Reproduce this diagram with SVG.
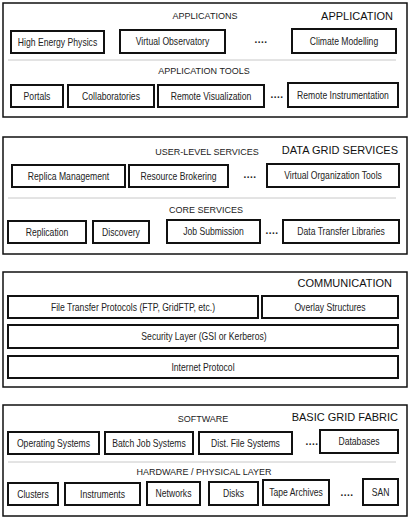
<svg xmlns="http://www.w3.org/2000/svg" width="410" height="522" viewBox="0 0 410 522">
<style>
.panel{fill:#fff;stroke:#111;stroke-width:1.5}
.box{fill:#fff;stroke:#111;stroke-width:2}
.div{stroke:#c8c8c8;stroke-width:1}
.bt{font-family:"Liberation Sans",Arial,sans-serif;font-size:10.5px;fill:#222;text-anchor:middle}
.st{font-family:"Liberation Sans",Arial,sans-serif;font-size:9px;fill:#222;text-anchor:middle}
.tt{font-family:"Liberation Sans",Arial,sans-serif;font-size:11px;fill:#111;text-anchor:end}
.dots{font-family:"Liberation Sans",Arial,sans-serif;font-size:10px;font-weight:bold;fill:#222;text-anchor:middle;letter-spacing:0.5px}
</style>
<rect width="410" height="522" fill="#fff"/>

<g id="application">
<rect class="panel" x="3" y="3" width="404" height="114"/>
<line class="div" x1="8" y1="60" x2="396" y2="60"/>
<text class="st" x="205" y="19">APPLICATIONS</text>
<text class="tt" x="393" y="20">APPLICATION</text>
<text class="st" x="204" y="74">APPLICATION TOOLS</text>
<text class="dots" x="261" y="43">....</text>
<text class="dots" x="277" y="98">....</text>
</g>
<g id="high-energy-physics"><rect class="box" x="11" y="31" width="93" height="22"/><text class="bt" transform="translate(57.5,45.5) scale(0.82,1)">High Energy Physics</text></g>
<g id="virtual-observatory"><rect class="box" x="120" y="30" width="105" height="23"/><text class="bt" transform="translate(172.5,45) scale(0.82,1)">Virtual Observatory</text></g>
<g id="climate-modelling"><rect class="box" x="292" y="29" width="104" height="24"/><text class="bt" transform="translate(344,44.5) scale(0.82,1)">Climate Modelling</text></g>
<g id="portals"><rect class="box" x="11" y="85" width="52" height="22"/><text class="bt" transform="translate(37,99.5) scale(0.82,1)">Portals</text></g>
<g id="collaboratories"><rect class="box" x="68" y="85" width="86" height="22"/><text class="bt" transform="translate(111,99.5) scale(0.82,1)">Collaboratories</text></g>
<g id="remote-visualization"><rect class="box" x="158" y="85" width="106" height="22"/><text class="bt" transform="translate(211,99.5) scale(0.82,1)">Remote Visualization</text></g>
<g id="remote-instrumentation"><rect class="box" x="288" y="83" width="110" height="24"/><text class="bt" transform="translate(343,98.5) scale(0.82,1)">Remote Instrumentation</text></g>

<g id="data-grid-services">
<rect class="panel" x="3" y="137" width="404" height="117"/>
<line class="div" x1="8" y1="198" x2="396" y2="198"/>
<text class="st" x="207" y="155">USER-LEVEL SERVICES</text>
<text class="tt" x="398" y="154">DATA GRID SERVICES</text>
<text class="st" x="206" y="213">CORE SERVICES</text>
<text class="dots" x="250" y="177.5">....</text>
<text class="dots" x="272" y="233.5">....</text>
</g>
<g id="replica-management"><rect class="box" x="12" y="165" width="113" height="22"/><text class="bt" transform="translate(68.5,179.5) scale(0.82,1)">Replica Management</text></g>
<g id="resource-brokering"><rect class="box" x="129" y="165" width="99" height="22"/><text class="bt" transform="translate(178.5,179.5) scale(0.82,1)">Resource Brokering</text></g>
<g id="virtual-organization-tools"><rect class="box" x="267" y="164" width="132" height="23"/><text class="bt" transform="translate(333,179) scale(0.82,1)">Virtual Organization Tools</text></g>
<g id="replication"><rect class="box" x="8" y="221" width="78" height="22"/><text class="bt" transform="translate(47,235.5) scale(0.82,1)">Replication</text></g>
<g id="discovery"><rect class="box" x="93" y="221" width="56" height="22"/><text class="bt" transform="translate(121,235.5) scale(0.82,1)">Discovery</text></g>
<g id="job-submission"><rect class="box" x="167" y="220" width="93" height="23"/><text class="bt" transform="translate(213.5,235) scale(0.82,1)">Job Submission</text></g>
<g id="data-transfer-libraries"><rect class="box" x="283" y="220" width="116" height="23"/><text class="bt" transform="translate(341,235) scale(0.82,1)">Data Transfer Libraries</text></g>

<g id="communication">
<rect class="panel" x="3" y="272" width="404" height="115"/>
<text class="tt" x="392" y="287">COMMUNICATION</text>
</g>
<g id="file-transfer-protocols"><rect class="box" x="8" y="296" width="250" height="22"/><text class="bt" transform="translate(133,310.5) scale(0.82,1)">File Transfer Protocols (FTP, GridFTP, etc.)</text></g>
<g id="overlay-structures"><rect class="box" x="262" y="296" width="136" height="22"/><text class="bt" transform="translate(330,310.5) scale(0.82,1)">Overlay Structures</text></g>
<g id="security-layer"><rect class="box" x="8" y="325" width="390" height="23"/><text class="bt" transform="translate(204,340) scale(0.82,1)">Security Layer (GSI or Kerberos)</text></g>
<g id="internet-protocol"><rect class="box" x="8" y="356" width="390" height="22"/><text class="bt" transform="translate(203,370.5) scale(0.82,1)">Internet Protocol</text></g>

<g id="basic-grid-fabric">
<rect class="panel" x="3" y="405" width="404" height="111"/>
<line class="div" x1="8" y1="462" x2="396" y2="462"/>
<text class="st" x="203" y="422">SOFTWARE</text>
<text class="tt" x="398" y="421">BASIC GRID FABRIC</text>
<text class="st" x="204" y="475">HARDWARE / PHYSICAL LAYER</text>
<text class="dots" x="312" y="444.5">....</text>
<text class="dots" x="347" y="495.5">....</text>
</g>
<g id="operating-systems"><rect class="box" x="8" y="432" width="91" height="22"/><text class="bt" transform="translate(53.5,446.5) scale(0.82,1)">Operating Systems</text></g>
<g id="batch-job-systems"><rect class="box" x="105" y="432" width="88" height="22"/><text class="bt" transform="translate(149,446.5) scale(0.82,1)">Batch Job Systems</text></g>
<g id="dist-file-systems"><rect class="box" x="199" y="432" width="93" height="22"/><text class="bt" transform="translate(245.5,446.5) scale(0.82,1)">Dist. File Systems</text></g>
<g id="databases"><rect class="box" x="320" y="430" width="78" height="23"/><text class="bt" transform="translate(359,445) scale(0.82,1)">Databases</text></g>
<g id="clusters"><rect class="box" x="8" y="483" width="50" height="22"/><text class="bt" transform="translate(33,497.5) scale(0.82,1)">Clusters</text></g>
<g id="instruments"><rect class="box" x="65" y="483" width="75" height="22"/><text class="bt" transform="translate(102.5,497.5) scale(0.82,1)">Instruments</text></g>
<g id="networks"><rect class="box" x="147" y="482" width="53" height="23"/><text class="bt" transform="translate(173.5,497) scale(0.82,1)">Networks</text></g>
<g id="disks"><rect class="box" x="209" y="482" width="49" height="23"/><text class="bt" transform="translate(233.5,497) scale(0.82,1)">Disks</text></g>
<g id="tape-archives"><rect class="box" x="263" y="480" width="66" height="25"/><text class="bt" transform="translate(296,496) scale(0.82,1)">Tape Archives</text></g>
<g id="san"><rect class="box" x="363" y="479" width="35" height="26"/><text class="bt" transform="translate(380.5,495.5) scale(0.82,1)">SAN</text></g>
</svg>
